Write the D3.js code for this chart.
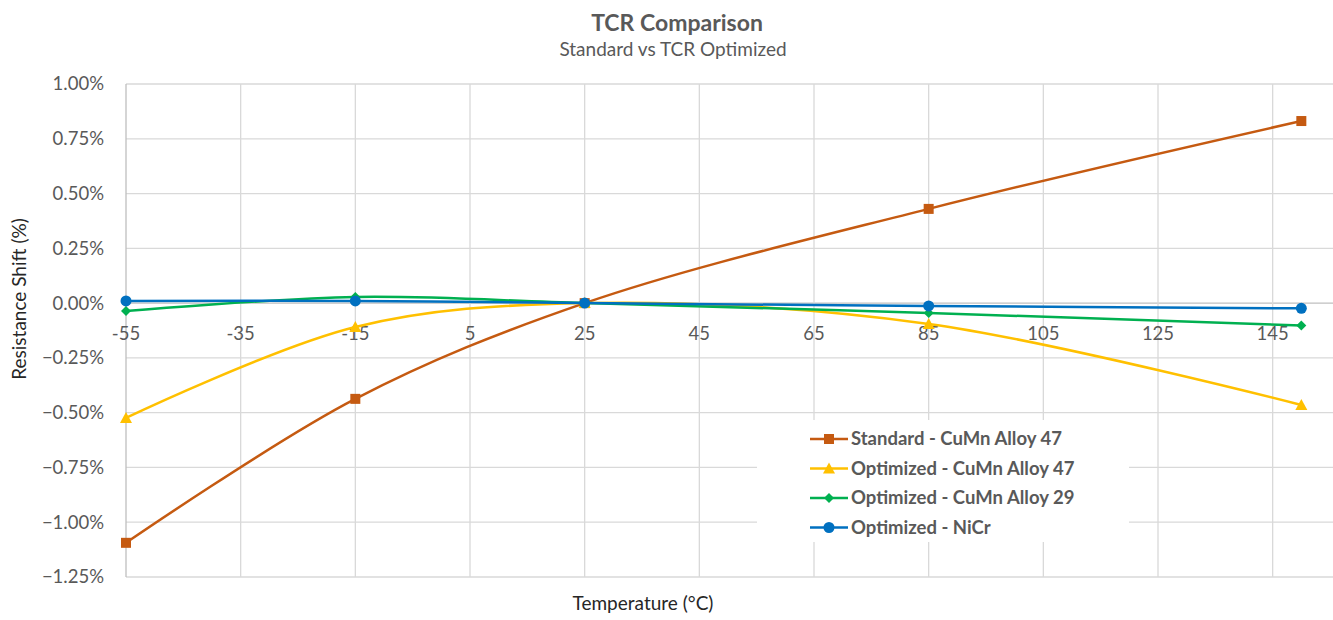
<!DOCTYPE html>
<html><head><meta charset="utf-8">
<script src="https://cdn.jsdelivr.net/npm/d3@7"></script>
<style>body{margin:0;background:#fff;}svg{display:block;font-family:Lato,"Liberation Sans",sans-serif;}</style>
</head><body><svg id="c" width="1333" height="620"></svg>
<script>
const temps = [-55, -15, 25, 85, 150];
const seriesNames = ["Standard - CuMn Alloy 47","Optimized - CuMn Alloy 47","Optimized - CuMn Alloy 29","Optimized - NiCr"];
const standard47 = [-1.094, -0.437, 0, 0.43, 0.831];
const optimized47 = [-0.524, -0.109, 0, -0.095, -0.465];
const optimized29 = [-0.036, 0.028, 0, -0.045, -0.102];
const optimizedNiCr = [0.01, 0.01, 0, -0.013, -0.024];
const xTicks = [-55,-35,-15,5,25,45,65,85,105,125,145];
const yTicks = [1.0,0.75,0.5,0.25,0,-0.25,-0.5,-0.75,-1.0,-1.25];
const colors = ["#C55A11","#FFC000","#00B050","#0070C0"];
const markers = ["square","triangle","diamond","circle"];
const allSeries = [standard47, optimized47, optimized29, optimizedNiCr];

const svg = d3.select("#c");
const x = d3.scaleLinear().domain([-55,155]).range([126,1330]);
const y = d3.scaleLinear().domain([-1.25,1.0]).range([577,84]);

// gridlines
svg.append("g").selectAll("line").data(yTicks).join("line")
  .attr("x1",126).attr("x2",1333).attr("y1",d=>y(d)).attr("y2",d=>y(d))
  .attr("stroke",d=>d===0?"#bfbfbf":"#d9d9d9").attr("stroke-width",1.3);
svg.append("g").selectAll("line").data(xTicks).join("line")
  .attr("x1",d=>x(d)).attr("x2",d=>x(d)).attr("y1",84).attr("y2",577)
  .attr("stroke",(d,i)=>i===0?"#bfbfbf":"#d9d9d9").attr("stroke-width",1.3);

// y tick labels
svg.append("g").selectAll("text").data(yTicks).join("text")
  .attr("x",104).attr("y",d=>y(d)).attr("dy","0.35em").attr("text-anchor","end")
  .attr("font-size",18.5).attr("fill","#595959").text(d=>d3.format(".2%")(d/100));
// x tick labels
svg.append("g").selectAll("text").data(xTicks).join("text")
  .attr("x",d=>x(d)).attr("y",y(0)+30).attr("dy","0.35em").attr("text-anchor","middle")
  .attr("font-size",18.5).attr("fill","#595959").text(d=>d);

// titles
svg.append("text").attr("x",677).attr("y",31).attr("text-anchor","middle").attr("font-size",23).attr("font-weight","bold").attr("fill","#595959").text("TCR Comparison");
svg.append("text").attr("x",673).attr("y",56).attr("text-anchor","middle").attr("font-size",19).attr("fill","#595959").text("Standard vs TCR Optimized");
svg.append("text").attr("transform","translate(26,299) rotate(-90)").attr("text-anchor","middle").attr("font-size",19).attr("fill","#262626").text("Resistance Shift (%)");
svg.append("text").attr("x",643).attr("y",610).attr("text-anchor","middle").attr("font-size",19).attr("fill","#262626").text("Temperature (°C)");

const line = d3.line().x(d=>x(d[0])).y(d=>y(d[1])).curve(d3.curveCatmullRom.alpha(0.5));
function marker(g, type, cx, cy, color){
  if(type==="square") g.append("rect").attr("x",cx-5).attr("y",cy-5).attr("width",10).attr("height",10).attr("fill",color);
  else if(type==="triangle") g.append("path").attr("d",`M${cx},${cy-6}L${cx+6},${cy+5}L${cx-6},${cy+5}Z`).attr("fill",color);
  else if(type==="diamond") g.append("path").attr("d",`M${cx},${cy-5}L${cx+5},${cy}L${cx},${cy+5}L${cx-5},${cy}Z`).attr("fill",color);
  else g.append("circle").attr("cx",cx).attr("cy",cy).attr("r",5.5).attr("fill",color);
}
allSeries.forEach((vals,i)=>{
  const pts = temps.map((t,j)=>[t,vals[j]]);
  const g = svg.append("g");
  g.append("path").attr("d",line(pts)).attr("fill","none").attr("stroke",colors[i]).attr("stroke-width",2.5);
  pts.forEach(p=>marker(g,markers[i],x(p[0]),y(p[1]),colors[i]));
});

// legend
const lg = svg.append("g");
lg.append("rect").attr("x",757).attr("y",420).attr("width",372).attr("height",122).attr("fill","#fff");
seriesNames.forEach((n,i)=>{
  const ly = 439 + i*29.5;
  lg.append("line").attr("x1",810).attr("x2",848).attr("y1",ly).attr("y2",ly).attr("stroke",colors[i]).attr("stroke-width",2.5);
  marker(lg,markers[i],829,ly,colors[i]);
  lg.append("text").attr("x",851).attr("y",ly).attr("dy","0.35em").attr("font-size",18.5).attr("font-weight","bold").attr("fill","#595959").text(n);
});
</script></body></html>
